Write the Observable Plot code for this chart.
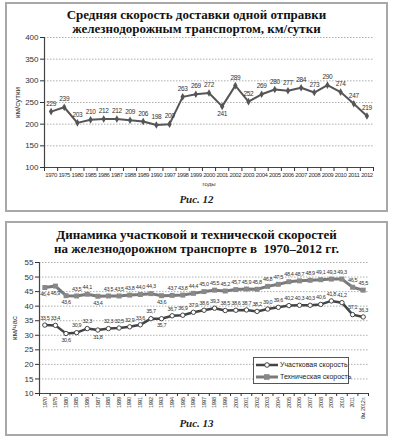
<!DOCTYPE html>
<html><head><meta charset="utf-8">
<script src="https://cdn.jsdelivr.net/npm/d3@7"></script>
<script src="https://cdn.jsdelivr.net/npm/@observablehq/plot@0.6"></script>
<style>
body{margin:0;background:#fff;width:393px;height:440px;position:relative;overflow:hidden;font-family:"Liberation Sans",Arial,sans-serif;}
.box{position:absolute;left:5px;width:379px;border:2px solid #a8a8a8;}
.title{position:absolute;left:0;width:393px;text-align:center;font-family:"Liberation Serif",serif;font-weight:bold;font-size:13px;color:#111;}
.fig{position:absolute;left:0;width:393px;text-align:center;font-family:"Liberation Serif",serif;font-weight:bold;font-style:italic;font-size:11px;line-height:14px;color:#222;}
.chart{position:absolute;left:0;}
.chart svg g[aria-label="x-axis tick label"] text{letter-spacing:-0.45px;}
.chart svg g[aria-label="text"] text{letter-spacing:-0.35px;}
.legend{position:absolute;left:253px;top:357px;width:94px;height:25px;border:1px solid #555;background:#fff;font-size:7px;color:#222;white-space:nowrap;}
.legend div{display:flex;align-items:center;height:11px;margin-top:1px;}
.legend svg{margin:0 2px 0 2px;flex:none;}
</style></head>
<body>
<div class="box" style="top:2px;height:206px;"></div>
<div class="box" style="top:221px;height:211px;"></div>
<div class="title" style="top:8px;line-height:14px;">Средняя скорость доставки одной отправки<br>железнодорожным транспортом, км/сутки</div>
<div class="fig" style="top:192px;">Рис. 12</div>
<div class="title" style="top:228px;line-height:13.5px;">Динамика участковой и технической скоростей<br>на железнодорожном транспорте в &nbsp;1970–2012 гг.</div>
<div class="fig" style="top:416px;">Рис. 13</div>
<div id="c1" class="chart" style="top:30px;"></div>
<div id="c2" class="chart" style="top:252px;"></div>
<div class="legend">
  <div><svg width="22" height="8"><line x1="0" y1="4" x2="22" y2="4" stroke="#444" stroke-width="2.5"/><circle cx="11" cy="4" r="2.3" fill="#fff" stroke="#444" stroke-width="1"/></svg><span id="lg1"></span></div>
  <div><svg width="22" height="8"><line x1="0" y1="4" x2="22" y2="4" stroke="#7a7a7a" stroke-width="3"/><rect x="8" y="1.2" width="5.6" height="5.6" fill="#888"/></svg><span id="lg2"></span></div>
</div>
<script>
// ---- Chart 1 data ----
const years1 = ["1970","1975","1980","1985","1986","1987","1988","1989","1990","1997","1998","1999","2000","2001","2002","2003","2004","2005","2006","2007","2008","2009","2010","2011","2012"];
const deliverySpeed = [229,239,203,210,212,212,209,206,198,200,263,269,272,241,289,252,269,280,277,284,273,290,274,247,219];
const yTicks1 = [100,150,200,250,300,350,400];
const yLabel1 = "км/сутки";
const xLabel1 = "годы";

// ---- Chart 2 data ----
const years2 = ["1970","1975","1980","1985","1986","1987","1988","1989","1990","1991","1992","1993","1994","1995","1996","1997","1998","1999","2000","2001","2002","2003","2004","2005","2006","2007","2008","2009","2010","2011","8м. 2012 г."];
const sectionSpeed = [33.5,33.4,30.6,30.9,32.3,31.8,32.3,32.5,32.9,33.6,35.7,35.7,36.7,36.9,37.9,38.6,39.3,38.5,38.6,38.7,38.2,39.0,39.6,40.2,40.3,40.3,40.6,41.8,41.2,37.1,36.3];
const technicalSpeed = [46.4,46.9,43.6,43.5,44.1,43.4,43.5,43.5,43.8,44.0,44.3,43.6,43.7,43.8,44.4,45.0,45.5,45.2,45.7,45.9,45.8,46.8,47.5,48.4,48.7,48.9,49.1,49.3,49.3,46.5,45.5];
const seriesNames = ["Участковая скорость","Техническая скорость"];
const yTicks2 = [10,15,20,25,30,35,40,45,50,55];
const yLabel2 = "км/час";

document.getElementById("lg1").textContent = seriesNames[0];
document.getElementById("lg2").textContent = seriesNames[1];

const fmt1 = v => String(v).replace(".", ",");
const fmt2 = v => v.toFixed(1).replace(".", ",");
const labelFont = "'Liberation Sans',Arial,sans-serif";

// ---- Chart 1 ----
const n1 = years1.length;
const d1 = years1.map((y, i) => ({i, year: y, v: deliverySpeed[i]}));
const below1 = new Set(["2001"]);
const c1 = Plot.plot({
  width: 393, height: 160,
  marginTop: 7, marginBottom: 23, marginLeft: 44, marginRight: 20,
  style: {fontFamily: "'Liberation Sans',Arial,sans-serif", fontSize: "8px", color: "#333", background: "transparent"},
  x: {type: "linear", domain: [-0.5, n1 - 0.5]},
  y: {domain: [100, 400]},
  marks: [
    Plot.ruleY(yTicks1.filter(t => t > 100), {stroke: "#999", strokeDasharray: "1.5,1.5", strokeWidth: 0.8}),
    Plot.ruleX([-0.5], {stroke: "#444", strokeWidth: 1.2}),
    Plot.ruleY([100], {stroke: "#444", strokeWidth: 1.2}),
    Plot.axisY({ticks: yTicks1, tickSize: 4, tickPadding: 2, label: yLabel1, labelAnchor: "center", labelOffset: 30, labelArrow: "none", fontSize: 8}),
    Plot.axisX(d3.range(n1 + 1).map(i => i - 0.5), {tickSize: 4, tickFormat: () => "", label: null}),
    Plot.axisX(d3.range(n1), {tickSize: 0, tickPadding: 5, tickFormat: i => years1[i], fontSize: 6, fontFamily: labelFont, label: xLabel1, labelAnchor: "center", labelOffset: 18, labelArrow: "none"}),
    Plot.line(d1, {x: "i", y: "v", stroke: "#555", strokeWidth: 2}),
    Plot.dot(d1, {x: "i", y: "v", fill: "#555", r: 2.3, symbol: "diamond"}),
    Plot.text(d1.filter(d => !below1.has(d.year)), {x: "i", y: "v", text: d => fmt1(d.v), dy: -8, fontSize: 6.5, fontFamily: labelFont, fill: "#333"}),
    Plot.text(d1.filter(d => below1.has(d.year)), {x: "i", y: "v", text: d => fmt1(d.v), dy: 8, fontSize: 6.5, fontFamily: labelFont, fill: "#333"})
  ]
});
document.getElementById("c1").append(c1);

// ---- Chart 2 ----
const n2 = years2.length;
const tech = years2.map((y, i) => ({i, year: y, v: technicalSpeed[i]}));
const sect = years2.map((y, i) => ({i, year: y, v: sectionSpeed[i]}));
const techBelow = new Set(["1970","1975","1980","1987","1993"]);
const sectBelow = new Set(["1980","1987","1993"]);
const lab2 = {x: "i", y: "v", text: d => fmt2(d.v), fontSize: 5.5, fontFamily: labelFont, fill: "#333"};
const c2 = Plot.plot({
  width: 393, height: 178,
  marginTop: 10, marginBottom: 37, marginLeft: 39, marginRight: 25,
  style: {fontFamily: "'Liberation Sans',Arial,sans-serif", fontSize: "8px", color: "#333", background: "transparent"},
  x: {type: "linear", domain: [-0.5, n2 - 0.5]},
  y: {domain: [10, 55]},
  marks: [
    Plot.ruleY(yTicks2.filter(t => t > 10), {stroke: "#999", strokeDasharray: "1.5,1.5", strokeWidth: 0.8}),
    Plot.ruleX([-0.5], {stroke: "#444", strokeWidth: 1.2}),
    Plot.ruleY([10], {stroke: "#444", strokeWidth: 1.2}),
    Plot.axisY({ticks: yTicks2, tickSize: 4, tickPadding: 2, label: yLabel2, labelAnchor: "center", labelOffset: 28, labelArrow: "none", fontSize: 8}),
    Plot.axisX(d3.range(n2 + 1).map(i => i - 0.5), {tickSize: 3, tickFormat: () => "", label: null}),
    Plot.axisX(d3.range(n2), {tickSize: 0, tickPadding: 4, tickRotate: -90, tickFormat: i => years2[i], fontSize: 5.5, fontFamily: labelFont, fill: "#333", label: null}),
    Plot.line(tech, {x: "i", y: "v", stroke: "#7a7a7a", strokeWidth: 3}),
    Plot.dot(tech, {x: "i", y: "v", fill: "#888", r: 2.8, symbol: "square"}),
    Plot.line(sect, {x: "i", y: "v", stroke: "#444", strokeWidth: 2.5}),
    Plot.dot(sect, {x: "i", y: "v", fill: "#fff", stroke: "#444", strokeWidth: 1, r: 2.2}),
    Plot.text(tech.filter(d => !techBelow.has(d.year)), {...lab2, dy: -7}),
    Plot.text(tech.filter(d => techBelow.has(d.year)), {...lab2, dy: 7}),
    Plot.text(sect.filter(d => !sectBelow.has(d.year)), {...lab2, dy: -7}),
    Plot.text(sect.filter(d => sectBelow.has(d.year)), {...lab2, dy: 7})
  ]
});
document.getElementById("c2").append(c2);
</script>
</body></html>
